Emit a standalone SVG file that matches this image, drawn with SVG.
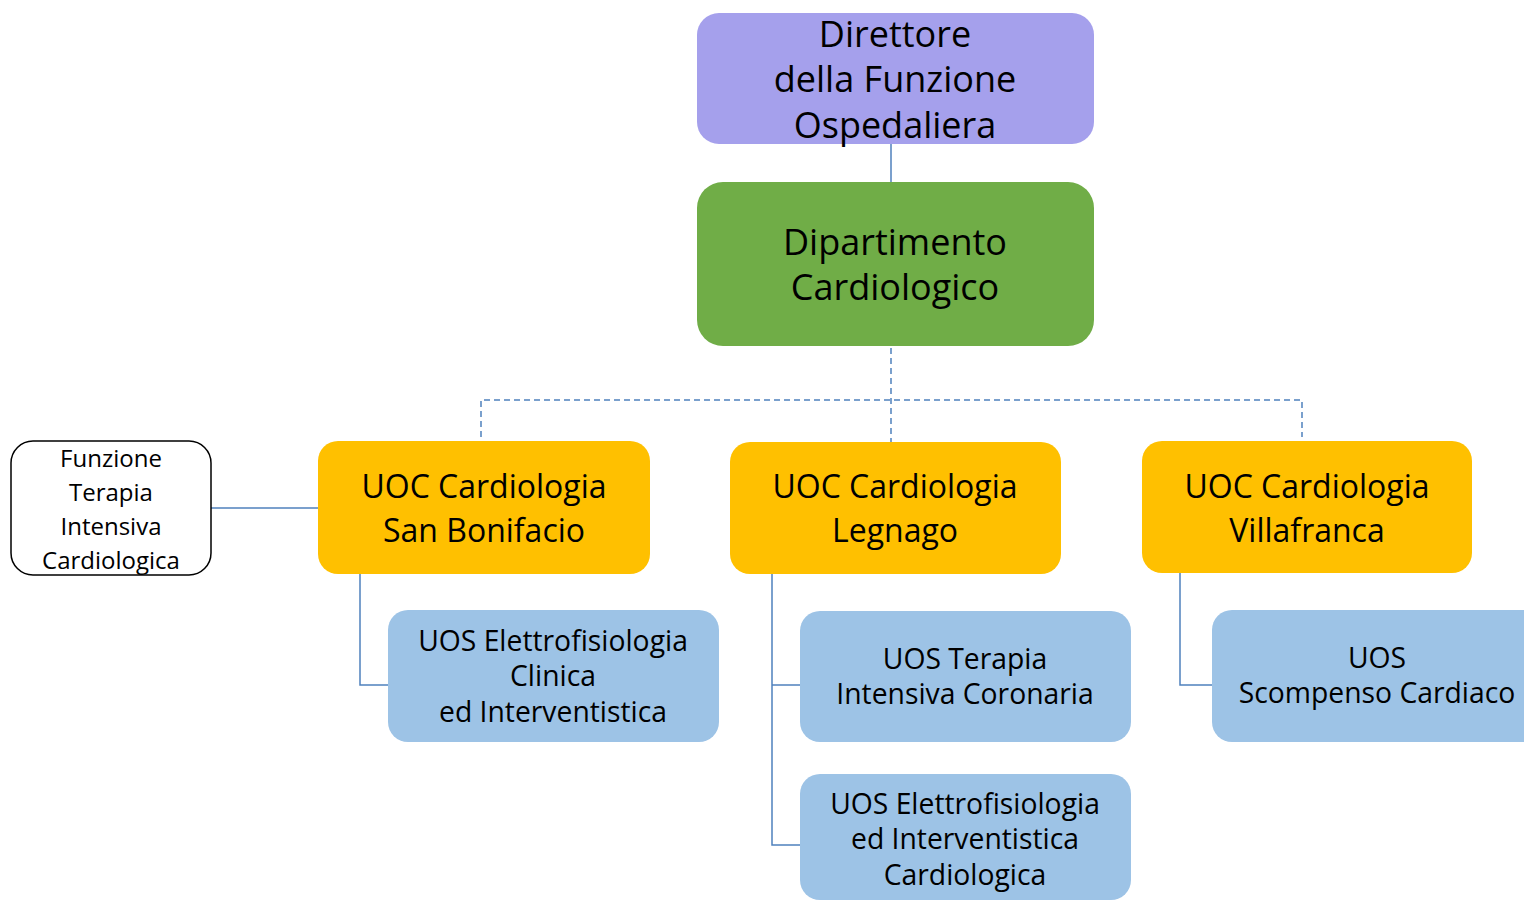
<svg xmlns="http://www.w3.org/2000/svg" width="1524" height="901" viewBox="0 0 1524 901">
<style>
text{font-family:"Open Sans","Noto Sans",sans-serif;fill:#000;text-anchor:middle}
.t1{font-size:36px}
.t2{font-size:32px}
.t3{font-size:28.3px}
.t4{font-size:24px}
.c{fill:none;stroke:#4F81BD;stroke-width:1.5}
.d{fill:none;stroke:#4F81BD;stroke-width:1.5;stroke-dasharray:6 4}
</style>
<rect width="1524" height="901" fill="#fff"/>
<g id="connectors">
<line class="c" x1="891" y1="144" x2="891" y2="182"/>
<line class="d" x1="891" y1="348" x2="891" y2="442"/>
<polyline class="d" points="481,437 481,400 1302,400 1302,437"/>
<line class="c" x1="211" y1="508" x2="318" y2="508"/>
<polyline class="c" points="360,574 360,685 388,685"/>
<polyline class="c" points="772,574 772,845 800,845"/>
<line class="c" x1="772" y1="685" x2="800" y2="685"/>
<polyline class="c" points="1180,573 1180,685 1212,685"/>
</g>
<g id="direttore">
<rect x="697" y="13" width="397" height="131" rx="22" fill="#A5A0EC"/>
<text class="t1" x="895" y="47">Direttore</text>
<text class="t1" x="895" y="92">della Funzione</text>
<text class="t1" x="895" y="138">Ospedaliera</text>
</g>
<g id="dipartimento">
<rect x="697" y="182" width="397" height="164" rx="26" fill="#70AD47"/>
<text class="t1" x="895" y="255">Dipartimento</text>
<text class="t1" x="895" y="300">Cardiologico</text>
</g>
<g id="funzione">
<rect x="11" y="441" width="200" height="134" rx="22" fill="#fff" stroke="#000" stroke-width="1.5"/>
<text class="t4" x="111" y="467">Funzione</text>
<text class="t4" x="111" y="501">Terapia</text>
<text class="t4" x="111" y="535">Intensiva</text>
<text class="t4" x="111" y="569">Cardiologica</text>
</g>
<g id="uoc-sanbonifacio">
<rect x="318" y="441" width="332" height="133" rx="20" fill="#FFC000"/>
<text class="t2" x="484" y="498">UOC Cardiologia</text>
<text class="t2" x="484" y="542">San Bonifacio</text>
</g>
<g id="uoc-legnago">
<rect x="730" y="442" width="331" height="132" rx="20" fill="#FFC000"/>
<text class="t2" x="895" y="498">UOC Cardiologia</text>
<text class="t2" x="895" y="542">Legnago</text>
</g>
<g id="uoc-villafranca">
<rect x="1142" y="441" width="330" height="132" rx="20" fill="#FFC000"/>
<text class="t2" x="1307" y="498">UOC Cardiologia</text>
<text class="t2" x="1307" y="542">Villafranca</text>
</g>
<g id="uos-elettro-clinica">
<rect x="388" y="610" width="331" height="132" rx="20" fill="#9DC3E6"/>
<text class="t3" x="553" y="651">UOS Elettrofisiologia</text>
<text class="t3" x="553" y="686">Clinica</text>
<text class="t3" x="553" y="722">ed Interventistica</text>
</g>
<g id="uos-terapia">
<rect x="800" y="611" width="331" height="131" rx="20" fill="#9DC3E6"/>
<text class="t3" x="965" y="669">UOS Terapia</text>
<text class="t3" x="965" y="704">Intensiva Coronaria</text>
</g>
<g id="uos-elettro-cardio">
<rect x="800" y="774" width="331" height="126" rx="20" fill="#9DC3E6"/>
<text class="t3" x="965" y="814">UOS Elettrofisiologia</text>
<text class="t3" x="965" y="849">ed Interventistica</text>
<text class="t3" x="965" y="885">Cardiologica</text>
</g>
<g id="uos-scompenso">
<rect x="1212" y="610" width="340" height="132" rx="20" fill="#9DC3E6"/>
<text class="t3" x="1377" y="668">UOS</text>
<text class="t3" x="1377" y="703">Scompenso Cardiaco</text>
</g>
</svg>
